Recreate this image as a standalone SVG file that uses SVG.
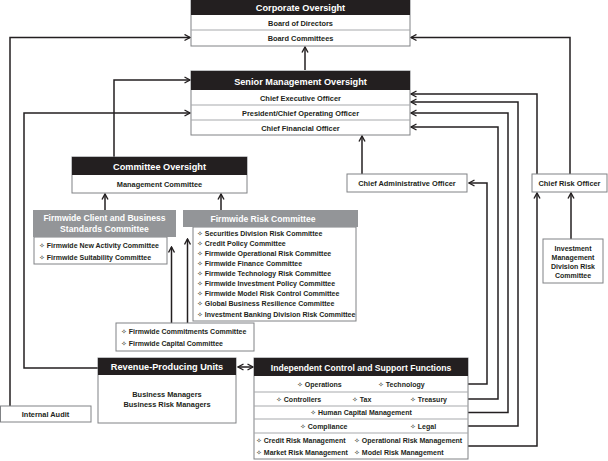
<svg xmlns="http://www.w3.org/2000/svg" width="608" height="461" viewBox="0 0 608 461">
<defs>
<marker id="a" viewBox="0 0 8 8" refX="7" refY="4" markerWidth="8" markerHeight="8" markerUnits="userSpaceOnUse" orient="auto-start-reverse"><path d="M1.5,1 L7,4 L1.5,7" fill="none" stroke="#231f20" stroke-width="1.4"/></marker>
<style>
text{font-family:"Liberation Sans","DejaVu Sans",Arial,sans-serif;font-weight:bold;fill:#231f20}
.h{fill:#fff;font-size:9.2px}
.t{font-size:7.4px}
.s{font-size:7px}
.c{text-anchor:middle}
.blk{fill:#231f20}
.gry{fill:#939598}
.box{fill:#fff;stroke:#808285;stroke-width:1}
.sep{stroke:#a7a9ac;stroke-width:1}
.ln{fill:none;stroke:#231f20;stroke-width:1.5}
.ar{marker-end:url(#a)}
</style>
</defs>
<rect width="608" height="461" fill="#fff"/>
<g id="connectors">
<path class="ln ar" d="M10,406 V37.5 H190"/>
<path class="ln ar" d="M114,157 V80 H190"/>
<path class="ln ar" d="M98,368 H24 V113 H190"/>
<path class="ln ar" d="M305,70 V47"/>
<path class="ln ar" d="M105,210 V194"/>
<path class="ln ar" d="M221,210 V194"/>
<path class="ln ar" d="M171.5,323 V247"/>
<path class="ln ar" d="M187.5,323 V239"/>
<path class="ln ar" d="M238,367 H253" style="marker-start:url(#a)"/>
<path class="ln ar" d="M362,174 V136"/>
<path class="ln ar" d="M468,384 H487 V183 H469"/>
<path class="ln ar" d="M468,399 H498 V127 H411"/>
<path class="ln ar" d="M468,412.5 H508 V113 H411"/>
<path class="ln ar" d="M468,426 H518 V102 H411"/>
<path class="ln ar" d="M468,446 H537 V193"/>
<path class="ln ar" d="M537,174 V94 H411"/>
<path class="ln ar" d="M570,174 V37.5 H411"/>
<path class="ln ar" d="M571,239 V193"/>
</g>
<g id="corporate-oversight">
<rect class="box" x="191" y="0.5" width="219" height="45.5"/>
<rect class="blk" x="191" y="0" width="219" height="15"/>
<line class="sep" x1="191" y1="30" x2="410" y2="30"/>
<text class="h c" x="300.5" y="11">Corporate Oversight</text>
<text class="t c" x="300.5" y="25.5">Board of Directors</text>
<text class="t c" x="300.5" y="41">Board Committees</text>
</g>
<g id="senior-management">
<rect class="box" x="191" y="71" width="219" height="64"/>
<rect class="blk" x="191" y="71" width="219" height="19"/>
<line class="sep" x1="191" y1="105" x2="410" y2="105"/>
<line class="sep" x1="191" y1="120" x2="410" y2="120"/>
<text class="h c" x="300.5" y="84.5">Senior Management Oversight</text>
<text class="t c" x="300.5" y="100.5">Chief Executive Officer</text>
<text class="t c" x="300.5" y="115.5">President/Chief Operating Officer</text>
<text class="t c" x="300.5" y="130.5">Chief Financial Officer</text>
</g>
<g id="committee-oversight">
<rect class="box" x="72" y="157" width="175" height="36"/>
<rect class="blk" x="72" y="157" width="175" height="18"/>
<text class="h c" x="159.5" y="169.5">Committee Oversight</text>
<text class="t c" x="159.5" y="187">Management Committee</text>
</g>
<g id="client-business-standards">
<rect class="box" x="34" y="237" width="133" height="27"/>
<rect class="gry" x="33" y="210" width="143" height="27"/>
<text class="h c" x="104.5" y="221" style="font-size:8.6px">Firmwide Client and Business</text>
<text class="h c" x="104.5" y="231.5" style="font-size:8.6px">Standards Committee</text>
<text class="s" x="39" y="247.5">✧ Firmwide New Activity Committee</text>
<text class="s" x="39" y="259.5">✧ Firmwide Suitability Committee</text>
</g>
<g id="firmwide-risk">
<rect class="box" x="193" y="227" width="163" height="94"/>
<rect class="gry" x="183" y="210" width="175" height="17"/>
<text class="h c" x="263" y="221.5" style="font-size:8.6px">Firmwide Risk Committee</text>
<text class="s" x="197" y="235.5">✧ Securities Division Risk Committee</text>
<text class="s" x="197" y="245.6">✧ Credit Policy Committee</text>
<text class="s" x="197" y="255.7">✧ Firmwide Operational Risk Committee</text>
<text class="s" x="197" y="265.8">✧ Firmwide Finance Committee</text>
<text class="s" x="197" y="276">✧ Firmwide Technology Risk Committee</text>
<text class="s" x="197" y="286.1">✧ Firmwide Investment Policy Committee</text>
<text class="s" x="197" y="296.2">✧ Firmwide Model Risk Control Committee</text>
<text class="s" x="197" y="306.3">✧ Global Business Resilience Committee</text>
<text class="s" x="197" y="316.5">✧ Investment Banking Division Risk Committee</text>
</g>
<g id="commitments">
<rect class="box" x="116" y="323" width="138" height="28"/>
<text class="s" x="121" y="334">✧ Firmwide Commitments Committee</text>
<text class="s" x="121" y="346">✧ Firmwide Capital Committee</text>
</g>
<g id="revenue-producing">
<rect class="box" x="98" y="358" width="138" height="65"/>
<rect class="blk" x="98" y="358" width="138" height="17"/>
<text class="h c" x="167" y="370">Revenue-Producing Units</text>
<text class="t c" x="167" y="397">Business Managers</text>
<text class="t c" x="167" y="407">Business Risk Managers</text>
</g>
<g id="internal-audit">
<rect class="box" x="0.5" y="406" width="90.5" height="16"/>
<text class="t c" x="45.5" y="417">Internal Audit</text>
</g>
<g id="independent-control">
<rect class="box" x="254" y="358" width="214" height="101"/>
<rect class="blk" x="254" y="358" width="214" height="18"/>
<line class="sep" x1="254" y1="392" x2="468" y2="392"/>
<line class="sep" x1="254" y1="406" x2="468" y2="406"/>
<line class="sep" x1="254" y1="419" x2="468" y2="419"/>
<line class="sep" x1="254" y1="433" x2="468" y2="433"/>
<text class="h c" x="361" y="370.5" style="font-size:8.6px">Independent Control and Support Functions</text>
<text class="s" x="297" y="387">✧ Operations</text>
<text class="s" x="378" y="387">✧ Technology</text>
<text class="s" x="276" y="402">✧ Controllers</text>
<text class="s" x="352" y="402">✧ Tax</text>
<text class="s" x="410" y="402">✧ Treasury</text>
<text class="s c" x="361" y="415">✧ Human Capital Management</text>
<text class="s" x="300" y="429">✧ Compliance</text>
<text class="s" x="410" y="429">✧ Legal</text>
<text class="s" x="256" y="443">✧ Credit Risk Management</text>
<text class="s" x="354" y="443">✧ Operational Risk Management</text>
<text class="s" x="256" y="455">✧ Market Risk Management</text>
<text class="s" x="354" y="455">✧ Model Risk Management</text>
</g>
<g id="chief-administrative-officer">
<rect class="box" x="347" y="174" width="120" height="18"/>
<text class="t c" x="407" y="186">Chief Administrative Officer</text>
</g>
<g id="chief-risk-officer">
<rect class="box" x="532" y="174" width="75" height="18"/>
<text class="t c" x="569.5" y="186">Chief Risk Officer</text>
</g>
<g id="imd-risk-committee">
<rect class="box" x="543" y="239" width="60" height="44"/>
<text class="s c" x="573" y="251">Investment</text>
<text class="s c" x="573" y="260">Management</text>
<text class="s c" x="573" y="269">Division Risk</text>
<text class="s c" x="573" y="278">Committee</text>
</g>
</svg>
